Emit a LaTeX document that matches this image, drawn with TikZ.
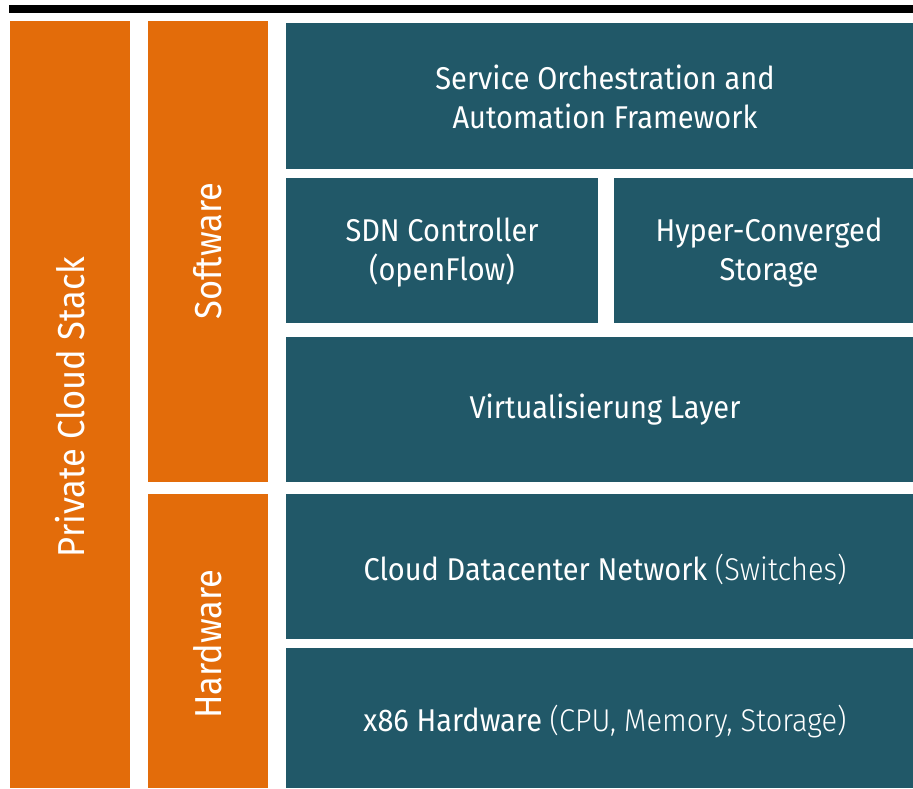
\documentclass[tikz,border=0pt]{standalone}
\usepackage{fontspec}
\setmainfont{Fira Sans}[FakeStretch=0.92]
\newfontfamily\lightf{Fira Sans Light}[FakeStretch=0.92]
\definecolor{teal}{RGB}{33,88,104}
\definecolor{orng}{RGB}{227,108,10}
\begin{document}
\begin{tikzpicture}[x=1pt,y=-1pt,
  blk/.style={text=white,font=\fontsize{31.5}{39}\selectfont,align=center,inner sep=0pt},
  side/.style={fill=orng,draw=none},
  tbox/.style={fill=teal,draw=none},
  lbl/.style={text=white,font=\fontsize{37.5}{40}\selectfont,rotate=90,inner sep=0pt}]
\useasboundingbox (0,0) rectangle (913,788);
\fill[black] (9,4.5) rectangle (913,12.5);
% orange columns
\path[side] (10,21) rectangle (130,788);
\node[lbl] (pcs) at (70,407) {Private Cloud Stack};
\path[side] (148,21) rectangle (268,482);
\node[lbl] (sw) at (208,251) {Software};
\path[side] (148,494) rectangle (268,788);
\node[lbl] (hw) at (208,644) {Hardware};
% teal boxes
\path[tbox] (286,23) rectangle (913,169);
\node[blk] (soa) at (605,97) {Service Orchestration and\\Automation Framework};
\path[tbox] (286,178) rectangle (598,323);
\node[blk] (sdn) at (442,253) {SDN Controller\\(openFlow)};
\path[tbox] (614,178) rectangle (913,323);
\node[blk] (hcs) at (769,253) {Hyper-Converged\\Storage};
\path[tbox] (286,337) rectangle (913,482);
\node[blk] (virt) at (605,410) {Virtualisierung Layer};
\path[tbox] (286,494) rectangle (913,639);
\node[blk] (net) at (605,569) {Cloud Datacenter Network {\lightf(Switches)}};
\path[tbox] (286,648) rectangle (913,788);
\node[blk] (x86) at (605,722) {x86 Hardware {\lightf(CPU, Memory, Storage)}};
\end{tikzpicture}
\end{document}
